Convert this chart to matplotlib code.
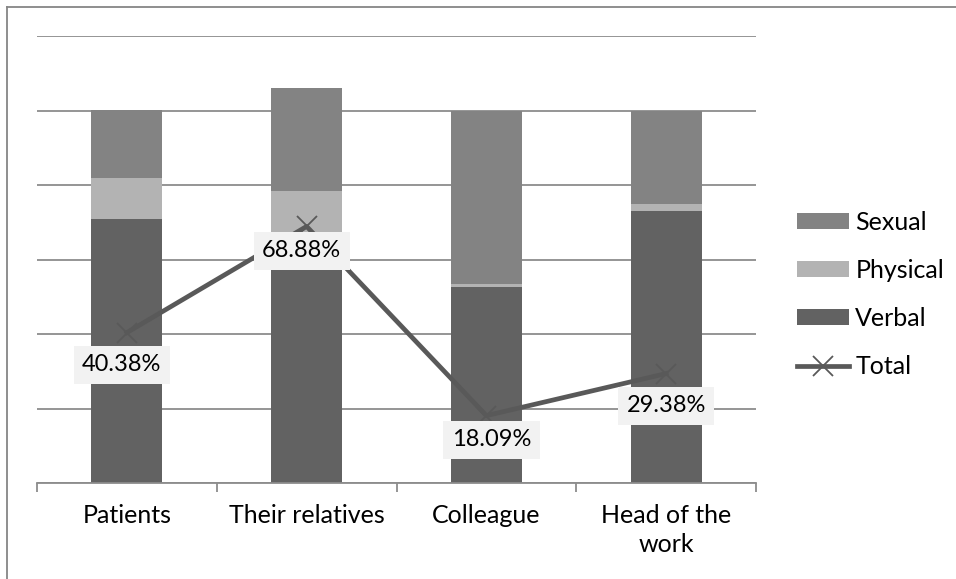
import matplotlib.pyplot as plt
import numpy as np
from matplotlib.lines import Line2D

plt.rcParams['font.family'] = ['Lato', 'DejaVu Sans']

# data (percent)
categories = ['Patients', 'Their relatives', 'Colleague', 'Head of the\nwork']
verbal = [70.9, 62.0, 52.7, 73.1]
physical = [10.9, 16.4, 0.7, 1.8]
sexual = [18.2, 27.6, 46.6, 25.1]
total = [40.38, 68.88, 18.09, 29.38]
total_labels = ['40.38%', '68.88%', '18.09%', '29.38%']

c_verbal = '#626262'
c_physical = '#b3b3b3'
c_sexual = '#838383'
c_line = '#595959'
c_grid = '#8c8c8c'

fig = plt.figure(figsize=(9.56, 5.79), dpi=100)
ax = fig.add_axes([37/956, 1 - 483/579, (756-37)/956, (483-36)/579])

x = np.arange(len(categories))
w = 0.395
verbal = np.array(verbal)
physical = np.array(physical)
sexual = np.array(sexual)

b1 = ax.bar(x, verbal, w, color=c_verbal, zorder=2)
b2 = ax.bar(x, physical, w, bottom=verbal, color=c_physical, zorder=2)
b3 = ax.bar(x, sexual, w, bottom=verbal + physical, color=c_sexual, zorder=2)

ln, = ax.plot(x, total, color=c_line, lw=3.4, marker='x', markersize=15,
              markeredgewidth=1.3, zorder=3)

# label offsets (points) roughly as in the original
offsets = [(-3.6, -23), (-3.6, -17.5), (3.6, -17.5), (0, -23)]
for xi, yi, lab, off in zip(x, total, total_labels, offsets):
    ax.annotate(lab, (xi, yi), xytext=off, textcoords='offset points',
                ha='center', va='center', fontsize=17, zorder=5,
                bbox=dict(boxstyle='square,pad=0.36', fc='#f2f2f2', ec='none'))

ax.set_xlim(-0.5, 3.5)
ax.set_ylim(0, 120)
ax.set_yticks(np.arange(0, 121, 20))
ax.yaxis.grid(True, color=c_grid, lw=1.3, zorder=0)
ax.tick_params(axis='y', left=False, labelleft=False)
for s in ['top', 'right', 'left']:
    ax.spines[s].set_visible(False)
ax.spines['bottom'].set_color(c_grid)
ax.spines['bottom'].set_linewidth(1.3)

ax.set_xticks(x)
ax.set_xticklabels(categories, fontsize=18, linespacing=1.35)
ax.set_xticks(np.arange(-0.5, 4, 1), minor=True)
ax.tick_params(axis='x', which='major', length=0, pad=15)
ax.tick_params(axis='x', which='minor', length=6.5, width=1.3, color=c_grid,
               direction='out')

handles = [b3, b2, b1, ln]
labels = ['Sexual', 'Physical', 'Verbal', 'Total']
fig.legend(handles, labels, loc='center left', bbox_to_anchor=(797/956, 1 - 294.5/579),
           frameon=False, fontsize=18, handlelength=2.08, handleheight=0.59,
           handletextpad=0.25, labelspacing=1.0, borderpad=0, borderaxespad=0)

# chart area frame (only left and top visible)
fig.add_artist(Line2D([7/956, 7/956], [0, 1 - 7/579], color='#868686', lw=1.3))
fig.add_artist(Line2D([7/956, 1], [1 - 7/579, 1 - 7/579], color='#868686', lw=1.3))

fig.savefig('out.png', dpi=100)
